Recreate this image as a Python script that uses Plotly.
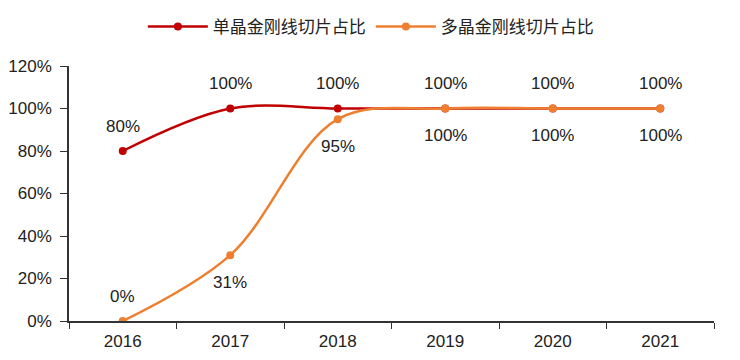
import plotly.graph_objects as go

years = ["2016", "2017", "2018", "2019", "2020", "2021"]
mono = [0.80, 1.00, 1.00, 1.00, 1.00, 1.00]
multi = [0.00, 0.31, 0.95, 1.00, 1.00, 1.00]
mono_labels = ["80%", "100%", "100%", "100%", "100%", "100%"]
multi_labels = ["0%", "31%", "95%", "100%", "100%", "100%"]
multi_label_above = [True, False, False, False, False, False]
y_ticks = [0, 0.2, 0.4, 0.6, 0.8, 1.0, 1.2]
y_tick_text = ["0%", "20%", "40%", "60%", "80%", "100%", "120%"]

RED = "#C00000"
ORANGE = "#EE7F31"

fig = go.Figure()
fig.add_trace(go.Scatter(
    x=years, y=mono, name="单晶金刚线切片占比", mode="lines+markers",
    line=dict(color=RED, width=2.5, shape="spline", smoothing=1.0),
    marker=dict(color=RED, size=8),
))
fig.add_trace(go.Scatter(
    x=years, y=multi, name="多晶金刚线切片占比", mode="lines+markers",
    line=dict(color=ORANGE, width=2.5, shape="spline", smoothing=1.0),
    marker=dict(color=ORANGE, size=8),
))

lab_font = dict(size=17, color="#222222", family="Liberation Sans, Arial")
annotations = []
for i, (y, t) in enumerate(zip(mono, mono_labels)):
    annotations.append(dict(x=i, y=y, xref="x", yref="y", text=t, showarrow=False,
                            yshift=25, font=lab_font))
for i, (y, t, above) in enumerate(zip(multi, multi_labels, multi_label_above)):
    annotations.append(dict(x=i, y=y, xref="x", yref="y", text=t, showarrow=False,
                            yshift=25 if above else -27, font=lab_font))

fig.update_layout(
    width=740, height=360,
    margin=dict(l=61, r=34, t=58, b=47, autoexpand=False),
    paper_bgcolor="white", plot_bgcolor="white",
    annotations=annotations,
    showlegend=True,
    legend=dict(orientation="h", x=0.468, xanchor="center", xref="paper",
                y=1.153, yanchor="middle", yref="paper",
                font=dict(size=17, color="#222222", family="Noto Sans CJK SC"),
                itemwidth=60, tracegroupgap=0),
    font=dict(family="Liberation Sans, Arial", size=17, color="#222222"),
)

fig.update_xaxes(
    type="category", range=[-0.5, 5.5],
    showline=True, linecolor="#333333", linewidth=1.5,
    ticks="outside", tickson="boundaries", ticklen=6, tickcolor="#333333",
    ticklabelstandoff=4, tickangle=0, automargin=False,
    showgrid=False, tickfont=dict(size=17, color="#222222"),
)
fig.update_yaxes(
    range=[0, 1.2], tickvals=y_ticks, ticktext=y_tick_text,
    showline=True, linecolor="#333333", linewidth=1.5,
    ticks="outside", ticklen=7, tickcolor="#333333",
    ticklabelstandoff=5, automargin=False,
    showgrid=False, zeroline=False, tickfont=dict(size=17, color="#222222"),
)

fig.write_html("out.html")
